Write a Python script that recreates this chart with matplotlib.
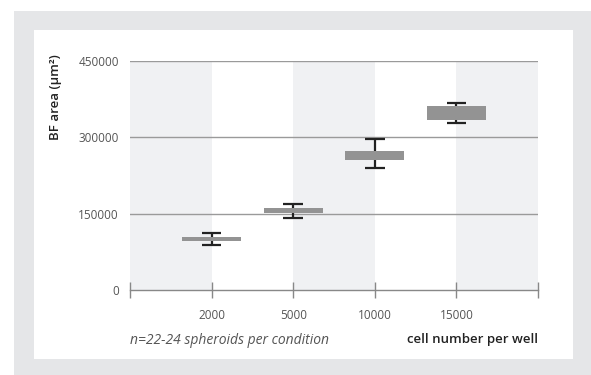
import matplotlib
matplotlib.use("Agg")
import matplotlib.pyplot as plt
from matplotlib.patches import Rectangle

plt.rcParams['font.family'] = ['Open Sans', 'DejaVu Sans']

categories = ['2000', '5000', '10000', '15000']
box_low = [96300, 151300, 256000, 334600]
box_high = [104100, 161700, 273100, 361600]
whisker_low = [88400, 142100, 239700, 328700]
whisker_high = [111400, 169000, 297300, 367500]
y_ticks = [0, 150000, 300000, 450000]

W, H = 591, 375
fig = plt.figure(figsize=(W / 100, H / 100), dpi=100)
fig.patch.set_facecolor('white')
fig.add_artist(Rectangle((14 / W, 0), 1 - 14 / W, (H - 11) / H,
                         transform=fig.transFigure, facecolor='#e5e6e8',
                         edgecolor='none', zorder=-10))
fig.add_artist(Rectangle((34 / W, 1 - 359 / H), (573 - 34) / W, (359 - 30) / H,
                         transform=fig.transFigure, facecolor='white',
                         edgecolor='none', zorder=-9))

ax = fig.add_axes([130 / W, 1 - 290 / H, (538 - 130) / W, (290 - 61) / H])
ax.set_facecolor('none')
ax.set_xlim(0, 5)
ax.set_ylim(0, 450000)

for s in (0, 2, 4):
    ax.axvspan(s, s + 1, color='#f0f1f3', zorder=0, lw=0)

for v in y_ticks[1:]:
    ax.axhline(v, color='#9a9a9a', lw=1.0, zorder=1)

xs = list(range(1, len(categories) + 1))
ax.vlines(xs, whisker_low, whisker_high, color='#222222', lw=1.6, zorder=2)
ax.hlines(whisker_low, [x - 0.12 for x in xs], [x + 0.12 for x in xs],
          color='#222222', lw=1.6, zorder=2)
ax.hlines(whisker_high, [x - 0.12 for x in xs], [x + 0.12 for x in xs],
          color='#222222', lw=1.6, zorder=2)
ax.bar(xs, [h - l for h, l in zip(box_high, box_low)], bottom=box_low,
       width=0.72, color='#939393', zorder=3, lw=0)

for sp in ('top', 'right', 'left'):
    ax.spines[sp].set_visible(False)
ax.spines['bottom'].set_color('#888888')
ax.spines['bottom'].set_linewidth(1.0)
ax.spines['bottom'].set_zorder(4)

ax.set_xticks(range(0, 6))
ax.set_xticklabels([''] + categories + [''])
ax.tick_params(axis='x', direction='inout', length=12, width=1.0,
               color='#888888', labelcolor='#555555', labelsize=8.5, pad=8)
ax.set_yticks(y_ticks)
ax.set_yticklabels([str(v) for v in y_ticks])
ax.tick_params(axis='y', length=0, labelcolor='#555555', labelsize=8.5, pad=8)

fig.text(55 / W, 1 - 97 / H, 'BF area (µm²)', rotation=90, ha='center',
         va='center', fontsize=9.5, color='#222222', fontweight='semibold')
fig.text(130 / W, 1 - 340 / H, 'n=22-24 spheroids per condition',
         ha='left', va='center', fontsize=10, style='italic', color='#555555')
fig.text(538 / W, 1 - 340 / H, 'cell number per well', ha='right',
         va='center', fontsize=9.5, color='#222222', fontweight='semibold')

fig.savefig('out.png', dpi=100)
